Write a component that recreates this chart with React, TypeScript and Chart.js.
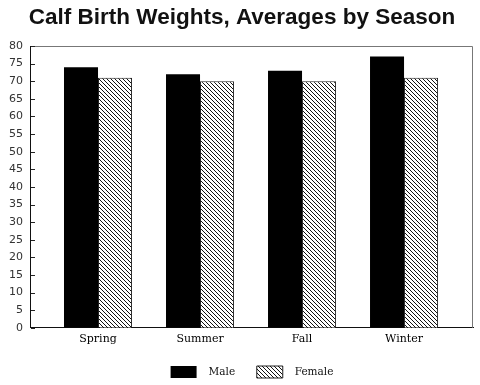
import React, { useEffect, useRef } from "react";
import { Chart, registerables } from "chart.js";

Chart.register(...registerables);

const seasons = ["Spring", "Summer", "Fall", "Winter"];
const maleWeights = [74, 72, 73, 77];
const femaleWeights = [71, 70, 70, 71];
const titleText = "Calf Birth Weights, Averages by Season";

function makeHatch(): CanvasPattern | string {
  const s = 4;
  const c = document.createElement("canvas");
  c.width = s;
  c.height = s;
  const g = c.getContext("2d");
  if (!g) return "#888";
  g.fillStyle = "#ffffff";
  g.fillRect(0, 0, s, s);
  g.strokeStyle = "#111";
  g.lineWidth = 1;
  g.beginPath();
  g.moveTo(-1, -1);
  g.lineTo(s + 1, s + 1);
  g.moveTo(-1, s - 1);
  g.lineTo(1, s + 1);
  g.moveTo(s - 1, -1);
  g.lineTo(s + 1, 1);
  g.stroke();
  const p = g.createPattern(c, "repeat");
  return p || "#888";
}

const framePlugin = {
  id: "frame",
  afterLayout(chart: any) {
    if (chart.legend) {
      chart.legend.left += 15;
      chart.legend.right += 15;
    }
    if (chart.titleBlock) {
      chart.titleBlock.left += 5;
      chart.titleBlock.right += 5;
    }
  },
  afterDraw(chart: any) {
    const { ctx, chartArea } = chart;
    const yScale = chart.scales.y;
    ctx.save();
    ctx.strokeStyle = "#777";
    ctx.lineWidth = 1;
    ctx.beginPath();
    ctx.moveTo(chartArea.left, chartArea.top + 0.5);
    ctx.lineTo(chartArea.right - 0.5, chartArea.top + 0.5);
    ctx.lineTo(chartArea.right - 0.5, chartArea.bottom);
    ctx.stroke();
    // inward tick marks on the y axis
    ctx.strokeStyle = "#222";
    ctx.beginPath();
    yScale.ticks.forEach((t: any) => {
      const py = Math.round(yScale.getPixelForValue(t.value)) + 0.5;
      ctx.moveTo(chartArea.left, py);
      ctx.lineTo(chartArea.left + 4, py);
    });
    ctx.stroke();
    ctx.restore();
  },
};

export default function App() {
  const ref = useRef<HTMLCanvasElement>(null);
  useEffect(() => {
    document.body.style.margin = "0";
    const canvas = ref.current;
    if (!canvas) return;
    const hatch = makeHatch();
    const chart = new Chart(canvas, {
      type: "bar",
      data: {
        datasets: [
          {
            label: "Male",
            data: maleWeights.map((v, i) => ({ x: i, y: v })),
            backgroundColor: "#000000",
            borderColor: "#000000",
            borderWidth: 0,
            categoryPercentage: 0.667,
            barPercentage: 1.0,
          },
          {
            label: "Female",
            data: femaleWeights.map((v, i) => ({ x: i, y: v })),
            backgroundColor: hatch as any,
            borderColor: "#222",
            borderWidth: 1,
            borderSkipped: "bottom",
            categoryPercentage: 0.667,
            barPercentage: 1.0,
          },
        ],
      },
      options: {
        animation: false,
        responsive: false,
        maintainAspectRatio: false,
        layout: { padding: { left: 1, right: 7, top: 4, bottom: -3 } },
        plugins: {
          title: {
            display: true,
            text: titleText,
            color: "#111",
            font: { family: "'Liberation Sans', Arial, sans-serif", size: 22.5, weight: "bold" },
            padding: { top: 0, bottom: 15 },
          },
          legend: {
            display: true,
            position: "bottom",
            labels: {
              boxWidth: 26,
              boxHeight: 12,
              color: "#111",
              padding: 15,
              font: { family: "'DejaVu Serif', serif", size: 10.5 },
              generateLabels: (ch: any) => {
                const base = Chart.defaults.plugins.legend.labels.generateLabels(ch);
                return base.map((it: any, i: number) => ({
                  ...it,
                  text: "  " + it.text + (i === 0 ? "  " : ""),
                }));
              },
            },
          },
          tooltip: { enabled: false },
        },
        scales: {
          x: {
            type: "linear",
            offset: false,
            min: -0.657,
            max: 3.676,
            afterBuildTicks: (axis: any) => {
              axis.ticks = seasons.map((_, i) => ({ value: i }));
            },
            ticks: {
              callback: (v: any) => seasons[Number(v)] ?? "",
              color: "#000",
              padding: 5,
              maxRotation: 0,
              autoSkip: false,
              font: { family: "'DejaVu Serif', serif", size: 11 },
            },
            grid: { display: false, drawTicks: false },
            border: { display: true, color: "#111", width: 1 },
          },
          y: {
            min: 0,
            max: 80,
            ticks: {
              stepSize: 5,
              color: "#333",
              padding: 8,
              font: { family: "'DejaVu Sans', sans-serif", size: 11 },
            },
            grid: { display: false, drawOnChartArea: false, drawTicks: false },
            border: { display: true, color: "#111", width: 1 },
          },
        },
      },
      plugins: [framePlugin],
    });
    return () => chart.destroy();
  }, []);
  return (
    <div style={{ width: 480, height: 385, background: "#fff" }}>
      <canvas ref={ref} width={480} height={385} style={{ width: 480, height: 385 }} />
    </div>
  );
}
